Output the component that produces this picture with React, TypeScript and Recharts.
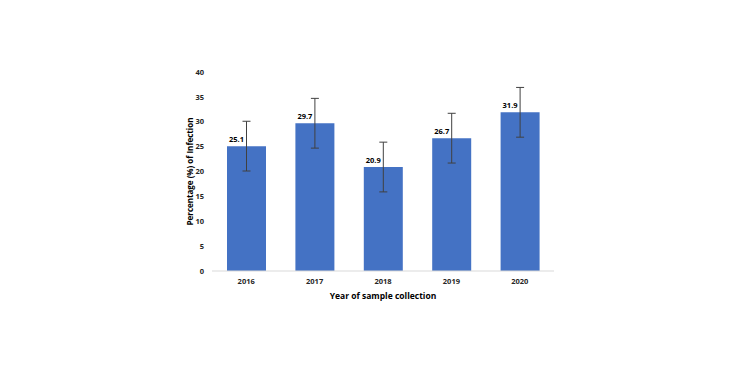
import React from "react";
import { BarChart, Bar, XAxis, YAxis, ErrorBar, LabelList, Label } from "recharts";

const years = ["2016", "2017", "2018", "2019", "2020"];
const infectionPct = [25.1, 29.7, 20.9, 26.7, 31.9];
const errorPct = [5, 5, 5, 5, 5];
const yTicks = [0, 5, 10, 15, 20, 25, 30, 35, 40];

const data = years.map((y, i) => ({ year: y, value: infectionPct[i], err: errorPct[i] }));

const FONT = "'Open Sans', 'Liberation Sans', sans-serif";

const ValueLabel = (props: any) => {
  const { x, y, width, value } = props;
  return (
    <text
      x={x + width / 2 - 10}
      y={y - 4}
      textAnchor="middle"
      fontFamily={FONT}
      fontSize={7.5}
      fontWeight={700}
      fill="#000"
    >
      {value}
    </text>
  );
};

export default function App() {
  return (
    <div style={{ position: "absolute", left: 0, top: 0, width: 750, height: 375, background: "#fff" }}>
      <BarChart
        width={750}
        height={375}
        data={data}
        margin={{ top: 72, right: 196, bottom: 74, left: 182 }}
      >
        <XAxis
          dataKey="year"
          axisLine={{ stroke: "#d9d9d9" }}
          tickLine={false}
          tick={{ fontFamily: FONT, fontSize: 7.5, fontWeight: 700, fill: "#262626" }}
          tickMargin={2}
          height={30}
        >
          <Label
            value="Year of sample collection"
            position="insideBottom"
            offset={2}
            style={{ fontFamily: FONT, fontSize: 8.5, fontWeight: 700, fill: "#000" }}
          />
        </XAxis>
        <YAxis
          domain={[0, 40]}
          ticks={yTicks}
          axisLine={false}
          tickLine={false}
          interval={0}
          tick={{ fontFamily: FONT, fontSize: 7.5, fontWeight: 700, fill: "#262626" }}
          tickMargin={2}
          width={30}
        >
          <Label
            value="Percentage (%) of Infection"
            angle={-90}
            position="insideLeft"
            offset={8}
            style={{ textAnchor: "middle", fontFamily: FONT, fontSize: 8, fontWeight: 700, fill: "#000" }}
          />
        </YAxis>
        <Bar dataKey="value" fill="#4472C4" barSize={39} isAnimationActive={false}>
          <ErrorBar dataKey="err" width={4} stroke="#404040" strokeWidth={1} direction="y" />
          <LabelList dataKey="value" content={ValueLabel} />
        </Bar>
      </BarChart>
    </div>
  );
}
